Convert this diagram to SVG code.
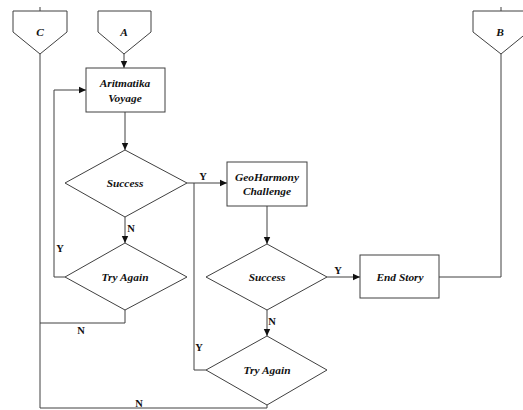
<svg xmlns="http://www.w3.org/2000/svg" width="523" height="410" viewBox="0 0 523 410">
<style>
.s{fill:#fff;stroke:#404040;stroke-width:1}
.c{fill:none;stroke:#404040;stroke-width:1}
.t{font-family:"Liberation Serif",serif;font-style:italic;font-weight:bold;font-size:11.4px;fill:#111;text-anchor:middle}
.l{font-family:"Liberation Serif",serif;font-weight:bold;font-size:10.5px;fill:#111;text-anchor:middle}
</style>
<defs>
<marker id="ah" markerWidth="8" markerHeight="8" refX="7" refY="4" orient="auto" markerUnits="userSpaceOnUse">
<path d="M0,0.8 L7,4 L0,7.2 Z" fill="#111"/>
</marker>
</defs>
<rect width="523" height="410" fill="#fff"/>
<g id="connectors">
<path class="c" d="M40,7 V11 M501,7 V11"/>
<path class="c" d="M124,54 V68" marker-end="url(#ah)"/>
<path class="c" d="M125,112 V150" marker-end="url(#ah)"/>
<path class="c" d="M125,217 V243" marker-end="url(#ah)"/>
<path class="c" d="M65,277 H54 V90 H86" marker-end="url(#ah)"/>
<path class="c" d="M125,310 V323 H40"/>
<path class="c" d="M40,54 V408 H267 V405"/>
<path class="c" d="M187,183 H227" marker-end="url(#ah)"/>
<path class="c" d="M194,183 V370 H206"/>
<path class="c" d="M267,206 V244" marker-end="url(#ah)"/>
<path class="c" d="M267,310 V336" marker-end="url(#ah)"/>
<path class="c" d="M327,277 H360" marker-end="url(#ah)"/>
<path class="c" d="M439,277 H501 V54"/>
<text class="l" x="131" y="232">N</text>
<text class="l" x="60" y="252">Y</text>
<text class="l" x="81" y="334">N</text>
<text class="l" x="139" y="407">N</text>
<text class="l" x="203" y="180">Y</text>
<text class="l" x="199" y="351">Y</text>
<text class="l" x="272" y="325">N</text>
<text class="l" x="338" y="274">Y</text>
</g>
<g id="C"><path class="s" d="M13,11 H67 V32 L40,54 L13,32 Z"/><text class="t" x="40" y="36">C</text></g>
<g id="A"><path class="s" d="M98,11 H151 V32 L124,54 L98,32 Z"/><text class="t" x="124" y="36">A</text></g>
<g id="B"><path class="s" d="M473,11 H528 V32 L501,54 L473,32 Z"/><text class="t" x="500" y="36">B</text></g>
<g id="aritmatika"><rect class="s" x="86" y="68" width="79" height="44"/><text class="t" x="125" y="87">Aritmatika</text><text class="t" x="125" y="102">Voyage</text></g>
<g id="success1"><path class="s" d="M125,150 L187,183 L125,217 L65,183 Z"/><text class="t" x="125" y="187">Success</text></g>
<g id="tryagain1"><path class="s" d="M125,243 L187,277 L125,310 L65,277 Z"/><text class="t" x="125" y="281">Try Again</text></g>
<g id="geoharmony"><rect class="s" x="227" y="162" width="80" height="44"/><text class="t" x="267" y="181">GeoHarmony</text><text class="t" x="267" y="195">Challenge</text></g>
<g id="success2"><path class="s" d="M267,244 L327,277 L267,310 L206,277 Z"/><text class="t" x="267" y="281">Success</text></g>
<g id="tryagain2"><path class="s" d="M267,336 L327,370 L267,405 L206,370 Z"/><text class="t" x="267" y="374">Try Again</text></g>
<g id="endstory"><rect class="s" x="360" y="255" width="79" height="43"/><text class="t" x="400" y="281">End Story</text></g>
</svg>
